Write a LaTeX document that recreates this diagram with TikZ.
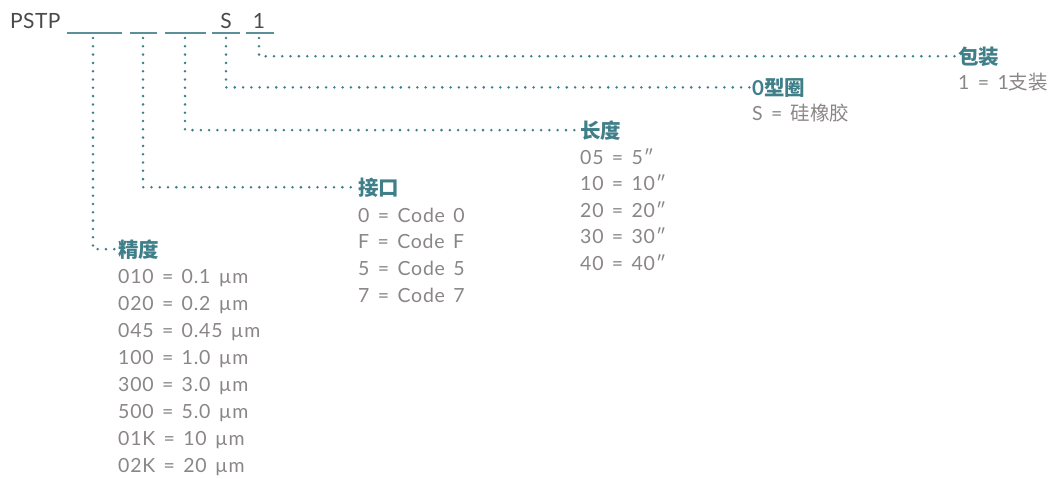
\documentclass[tikz,border=0pt]{standalone}
\usepackage{fontspec}
\setmainfont{Lato}
\newfontfamily\itemfont[LetterSpace=4,WordSpace=1.45]{Lato}
\newfontfamily\codefont[LetterSpace=2]{Lato}
\newfontfamily\cjk{Noto Sans CJK SC}
\newfontfamily\cjkb{Noto Sans CJK SC Bold}
\definecolor{hdcol}{HTML}{3F7F89}
\definecolor{dotcol}{HTML}{3A808C}
\definecolor{ulcol}{HTML}{5C9099}
\definecolor{txtcol}{HTML}{8A8685}
\definecolor{codecol}{HTML}{4A4A4A}
\begin{document}
\begin{tikzpicture}[x=1pt,y=-1pt,
  code/.style={anchor=base west,inner sep=0pt,text=codecol,font=\codefont\fontsize{21}{25}\selectfont},
  head/.style={anchor=base west,inner sep=2pt,text=hdcol,font=\fontsize{20.5}{24}\selectfont\bfseries},
  item/.style={anchor=base west,inner sep=0pt,text=txtcol,font=\itemfont\fontsize{19.5}{23}\selectfont},
  uline/.style={draw=ulcol,line width=1.3pt},
  dotline/.style={draw=dotcol,line width=2.8pt,line cap=round,dash pattern=on 0pt off 8.3pt}]
\useasboundingbox (0,0) rectangle (1053,479);
% code line
\node[code] (pstp) at (10,28.5) {PSTP};
\node[code,anchor=base] (s) at (226,28.5) {S};
\node[code,anchor=base] (one) at (259,28.5) {1};
\draw[uline] (67,33) -- (122,33);
\draw[uline] (130,33) -- (157,33);
\draw[uline] (165,33) -- (206,33);
\draw[uline] (212,33) -- (240,33);
\draw[uline] (246,33) -- (274,33);
\coordinate (c1) at (93,38);
\coordinate (c2) at (143,38);
\coordinate (c3) at (185,38);
\coordinate (c4) at (226,38);
\coordinate (c5) at (259,38);
% headings
\node[head] (h5) at (956,64) {\cjkb 包装};
\node[head] (h4) at (750,95) {0\cjkb 型圈};
\node[head] (h3) at (578,138) {\cjkb 长度};
\node[head] (h2) at (356,195) {\cjkb 接口};
\node[head] (h1) at (116,257) {\cjkb 精度};
% connectors
\draw[dotline] (c5) |- (h5.west);
\draw[dotline] (c4) |- (h4.west);
\draw[dotline] (c3) |- (h3.west);
\draw[dotline] (c2) |- (h2.west);
\draw[dotline] (c1) |- (h1.west);
% items
\node[item] (p1) at (958,89) {1 = 1{\cjk 支装}};
\node[item] (o1) at (752,120) {S = {\cjk 硅橡胶}};
\foreach \t [count=\i from 0] in {05 = 5″,10 = 10″,20 = 20″,30 = 30″,40 = 40″}
  \node[item] (l\i) at (580,164+26.6*\i) {\t};
\foreach \t [count=\i from 0] in {0 = Code 0,F = Code F,5 = Code 5,7 = Code 7}
  \node[item] (k\i) at (358,222+26.7*\i) {\t};
\foreach \t [count=\i from 0] in {010 = 0.1 µm,020 = 0.2 µm,045 = 0.45 µm,100 = 1.0 µm,300 = 3.0 µm,500 = 5.0 µm,01K = 10 µm,02K = 20 µm}
  \node[item] (a\i) at (118,283+27*\i) {\t};
\end{tikzpicture}
\end{document}
